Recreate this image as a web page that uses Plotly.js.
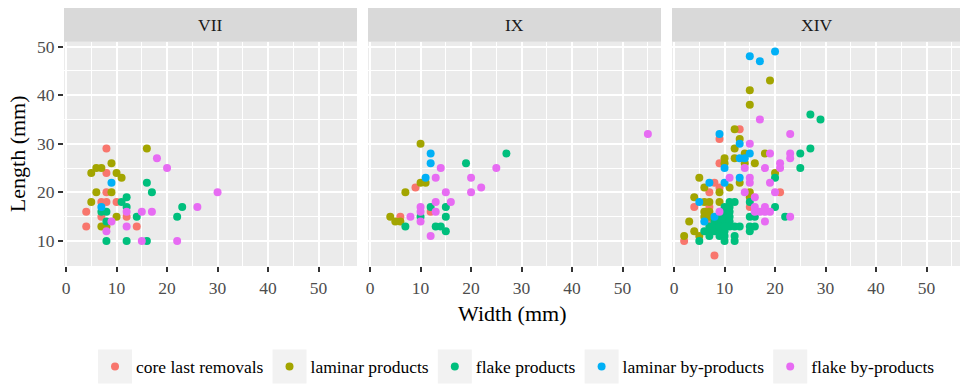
<!DOCTYPE html>
<html><head><meta charset="utf-8">
<script src="https://cdn.plot.ly/plotly-3.0.1.min.js"></script>
<style>html,body{margin:0;padding:0;background:#fff}#chart{width:960px;height:385px}</style>
</head><body><div id="chart"></div>
<script>
// ---- data (Width, Length in mm) ----
const facets = ['VII', 'IX', 'XIV'];
const categories = ['core last removals', 'laminar products', 'flake products', 'laminar by-products', 'flake by-products'];
const colors = ['#F8766D', '#A3A500', '#00BF7D', '#00B0F6', '#E76BF3'];

const core_facet  = ['VII','VII','VII','VII','VII','VII','VII','VII','VII','VII','VII',
                     'IX','IX','IX',
                     'XIV','XIV','XIV','XIV','XIV','XIV','XIV','XIV','XIV','XIV','XIV','XIV','XIV'];
const core_width  = [8,8,8,7,8,10,4,7,12,4,14, 9,12,6, 13,9,9,8,9,7,7,4,7,2,8,15,21];
const core_length = [29,24,20,18,18,18,16,15,15,13,13, 21,16,15, 33,31,26,22,21,20,17,17,14,10,7,17,20];

const lam_facet  = ['VII','VII','VII','VII','VII','VII','VII','VII','VII','VII','VII','VII','VII',
                    'IX','IX','IX','IX','IX','IX','IX',
                    'XIV','XIV','XIV','XIV','XIV','XIV','XIV','XIV','XIV','XIV','XIV','XIV','XIV','XIV','XIV','XIV','XIV','XIV','XIV','XIV','XIV','XIV','XIV','XIV','XIV','XIV','XIV','XIV','XIV','XIV','XIV','XIV','XIV'];
const lam_width  = [16,6,7,9,5,10,11,6,9,5,10,7,8,
                    10,10,11,7,4,5,6,
                    19,15,15,12,13,12,14,18,10,12,10,14,16,20,5,13,6,11,9,15,15,4,6,7,9,6,7,6,7,3,4,2,5];
const lam_length = [29,25,25,26,24,24,23,20,20,18,15,13,13,
                    30,22,22,20,15,14,14,
                    43,41,38,33,31,29,28,28,27,27,26,26,26,24,23,22,21,21,20,20,19,19,18,18,18,16,16,15,15,14,12,11,11];

const flake_facet  = ['VII','VII','VII','VII','VII','VII','VII','VII','VII','VII','VII','VII','VII','VII',
                      'IX','IX','IX','IX','IX','IX','IX','IX','IX','IX',
                      'XIV','XIV','XIV','XIV','XIV','XIV','XIV','XIV','XIV','XIV','XIV','XIV','XIV','XIV','XIV','XIV','XIV','XIV','XIV','XIV','XIV','XIV','XIV','XIV','XIV','XIV','XIV','XIV','XIV','XIV','XIV','XIV','XIV','XIV','XIV','XIV','XIV','XIV','XIV','XIV','XIV','XIV','XIV','XIV','XIV','XIV'];
const flake_width  = [16,17,12,11,12,7,8,23,14,22,8,8,12,16,
                      27,19,12,15,10,15,7,13,14,15,
                      27,29,27,25,25,20,15,20,11,12,10,11,10,11,9,10,11,15,16,22,8,9,10,11,7,8,11,12,13,15,16,6,7,8,9,10,15,7,9,10,12,5,10,12,9,10];
const flake_length = [22,20,19,18,17,16,16,17,15,15,14,10,10,10,
                      28,26,17,17,15,15,13,13,13,12,
                      36,35,29,28,25,23,18,17,18,18,17,17,16,16,15,15,15,15,15,15,14,14,14,14,13,13,13,13,13,13,13,12,12,12,12,12,12,11,11,11,11,10,10,10,13,13];

const lbp_facet  = ['VII','VII', 'IX','IX','IX',
                    'XIV','XIV','XIV','XIV','XIV','XIV','XIV','XIV','XIV','XIV','XIV','XIV','XIV','XIV','XIV'];
const lbp_width  = [9,7, 12,12,11, 20,15,17,9,13,15,13,14,10,13,7,10,5,8,6];
const lbp_length = [22,17, 28,26,23, 49,48,47,32,30,28,27,27,25,23,22,22,18,15,14];

const fbp_facet  = ['VII','VII','VII','VII','VII','VII','VII','VII','VII','VII','VII','VII',
                    'IX','IX','IX','IX','IX','IX','IX','IX','IX','IX','IX','IX','IX','IX','IX','IX',
                    'XIV','XIV','XIV','XIV','XIV','XIV','XIV','XIV','XIV','XIV','XIV','XIV','XIV','XIV','XIV','XIV','XIV','XIV','XIV','XIV','XIV','XIV','XIV','XIV','XIV','XIV'];
const fbp_width  = [18,20,30,15,17,26,12,9,12,8,15,22,
                    14,25,13,20,22,15,20,13,16,10,13,10,8,10,12,55,
                    17,23,15,19,23,23,14,18,21,21,11,15,15,19,14,20,16,16,18,9,16,17,18,19,18,23];
const fbp_length = [27,25,20,16,16,17,16,14,13,12,10,10,
                    25,25,23,23,21,20,20,18,18,17,16,16,15,14,11,32,
                    35,32,30,28,28,27,25,25,26,25,23,23,22,22,20,20,19,17,17,16,16,16,16,16,14,15];

const seriesFacet  = [core_facet, lam_facet, flake_facet, lbp_facet, fbp_facet];
const seriesWidth  = [core_width, lam_width, flake_width, lbp_width, fbp_width];
const seriesLength = [core_length, lam_length, flake_length, lbp_length, fbp_length];

// ---- build traces ----
const axisSuffix = ['', '2', '3'];
const traces = [];
categories.forEach(function (cat, ci) {
  facets.forEach(function (f, fi) {
    const xs = [], ys = [];
    seriesFacet[ci].forEach(function (ff, k) {
      if (ff === f) { xs.push(seriesWidth[ci][k]); ys.push(seriesLength[ci][k]); }
    });
    traces.push({
      type: 'scatter', mode: 'markers', name: cat, legendgroup: cat,
      showlegend: fi === 0, x: xs, y: ys,
      xaxis: 'x' + axisSuffix[fi], yaxis: 'y' + axisSuffix[fi],
      marker: { color: colors[ci], size: 8, line: { width: 0 } },
      hoverinfo: 'x+y+name'
    });
  });
});

const FONT = 'Liberation Serif';
const panelTop = 0.8694;
function xax(domain, rng, showLabels) {
  return {
    domain: domain, range: rng, tickvals: [0, 10, 20, 30, 40, 50], showticklabels: showLabels,
    ticks: 'outside', ticklen: 5, tickwidth: 1.6, tickcolor: '#333333', ticklabelstandoff: 1,
    showgrid: true, gridcolor: '#FFFFFF', gridwidth: 1.7, zeroline: false, showline: false,
    minor: { dtick: 5, tick0: 0, showgrid: true, gridcolor: '#FFFFFF', gridwidth: 0.8 },
    tickfont: { family: FONT, size: 17.5, color: '#4D4D4D' }, fixedrange: true
  };
}
function yax(anchor, showLabels, match) {
  const a = {
    domain: [0, panelTop], range: [4.85, 51.0], tickvals: [10, 20, 30, 40, 50], anchor: anchor,
    showticklabels: showLabels, ticks: showLabels ? 'outside' : '', ticklen: 5, tickwidth: 1.6, tickcolor: '#333333',
    showgrid: true, gridcolor: '#FFFFFF', gridwidth: 1.7, zeroline: false, showline: false,
    minor: { dtick: 5, tick0: 0, showgrid: true, gridcolor: '#FFFFFF', gridwidth: 0.8 },
    tickfont: { family: FONT, size: 17.5, color: '#4D4D4D' }, fixedrange: true
  };
  if (match) a.matches = 'y';
  return a;
}

const shapes = [];
const annotations = [];
facets.forEach(function (f, fi) {
  const xr = 'x' + axisSuffix[fi] + ' domain';
  shapes.push({ type: 'rect', xref: xr, yref: 'paper', x0: 0, x1: 1, y0: panelTop, y1: 1,
    fillcolor: '#D9D9D9', line: { width: 0 }, layer: 'below' });
  annotations.push({ xref: xr, yref: 'paper', x: 0.5, y: (panelTop + 1) / 2, text: f, showarrow: false,
    xanchor: 'center', yanchor: 'middle', font: { family: FONT, size: 17.5, color: '#1A1A1A' } });
});
annotations.push({ xref: 'paper', yref: 'paper', x: 0.5, y: -0.183, text: 'Width (mm)', showarrow: false,
  xanchor: 'center', yanchor: 'middle', font: { family: FONT, size: 22, color: '#000000' } });
annotations.push({ xref: 'paper', yref: 'paper', x: -0.051, y: panelTop / 2, text: 'Length (mm)', showarrow: false,
  textangle: -90, xanchor: 'center', yanchor: 'middle', font: { family: FONT, size: 22, color: '#000000' } });

const layout = {
  width: 960, height: 385,
  margin: { l: 64, r: 0, t: 8, b: 109 },
  paper_bgcolor: '#FFFFFF', plot_bgcolor: '#EBEBEB',
  font: { family: FONT, size: 17.5, color: '#000000' },
  xaxis: xax([0, 0.327], [-0.4, 57.6], true),
  xaxis2: xax([0.3393, 0.6663], [-0.4, 57.6], true),
  xaxis3: xax([0.6786, 1], [-0.4, 56.63], true),
  yaxis: yax('x', true, false),
  yaxis2: yax('x2', false, true),
  yaxis3: yax('x3', false, true),
  showlegend: true,
  legend: { orientation: 'h', x: 0.5056, xanchor: 'center', y: -0.39, yanchor: 'middle',
    bgcolor: 'rgba(0,0,0,0)', font: { family: FONT, size: 17.5, color: '#000000' },
    itemwidth: 32, traceorder: 'normal' },
  shapes: shapes, annotations: annotations
};

const gd = document.getElementById('chart');
Plotly.newPlot(gd, traces, layout, { displayModeBar: false, responsive: false }).then(function () {
  const gb = gd.getBoundingClientRect();
  const sz = gd._fullLayout._size;
  const boxes = [];
  gd.querySelectorAll('g.legend g.traces').forEach(function (t) {
    const pt = t.querySelector('.legendpoints path');
    if (!pt) return;
    const b = pt.getBoundingClientRect();
    const cx = b.left + b.width / 2 - gb.left, cy = b.top + b.height / 2 - gb.top;
    const h = 17;
    boxes.push({ type: 'rect', xref: 'paper', yref: 'paper', layer: 'below',
      x0: (cx - h - sz.l) / sz.w, x1: (cx + h - sz.l) / sz.w,
      y0: 1 - (cy + h - sz.t) / sz.h, y1: 1 - (cy - h - sz.t) / sz.h,
      fillcolor: '#F2F2F2', line: { width: 0 } });
  });
  return Plotly.relayout(gd, { shapes: shapes.concat(boxes) });
});
</script>
</body></html>
